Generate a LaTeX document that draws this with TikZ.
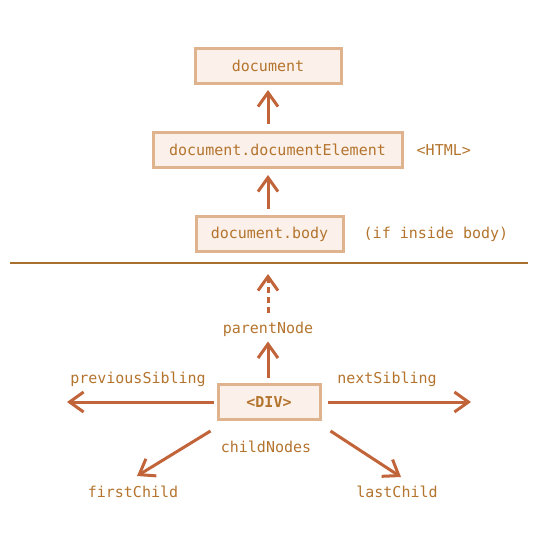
\documentclass[tikz,border=0pt]{standalone}
\usepackage{fontspec}
\setmonofont{DejaVu Sans Mono}
\usetikzlibrary{arrows.meta,positioning}

\definecolor{boxfill}{RGB}{251,241,234}
\definecolor{boxline}{RGB}{223,179,142}
\definecolor{arrowcol}{RGB}{194,100,58}
\definecolor{rulecol}{RGB}{168,112,46}
\definecolor{textcol}{RGB}{180,116,46}

\begin{document}
\begin{tikzpicture}[
    x=1pt, y=-1pt,
    font=\ttfamily\fontsize{15}{18}\selectfont,
    node distance=12pt,
    domnode/.style={rectangle, draw=boxline, line width=3pt, fill=boxfill, text=textcol, minimum height=35pt, inner sep=0pt},
    lbl/.style={text=textcol, inner sep=1pt},
    arrow/.style={-{Straight Barb[length=14pt,width=20pt,line width=3pt]}, draw=arrowcol, line width=3pt}
]
    \useasboundingbox (0,0) rectangle (548,537);

    % upper part: document chain
    \node[domnode, minimum width=146pt] (doc) at (268,66) {document};
    \node[domnode, minimum width=249pt] (docel) at (277.5,150) {document.documentElement};
    \node[domnode, minimum width=147pt] (body) at (269.5,234) {document.body};
    \node[lbl, right=of docel] (html) {<HTML>};
    \node[lbl, right=18pt of body] (inbody) {(if inside body)};

    \draw[arrow, shorten <=7pt, shorten >=5pt] (docel.north -| doc) -- (doc.south);
    \draw[arrow, shorten <=6pt, shorten >=6pt] (body.north -| doc) -- (docel.south -| doc);

    % separator
    \coordinate (ruleL) at (10,263);
    \coordinate (ruleR) at (528,263);
    \draw[rulecol, line width=2.5pt] (ruleL) -- (ruleR);

    % lower part: navigation from an element
    \node[domnode, minimum width=102pt, font=\ttfamily\bfseries\fontsize{15}{18}\selectfont] (div) at (269,402) {<DIV>};
    \node[lbl] (parent) at (268,329) {parentNode};
    \coordinate (parentend) at (268,274);
    \draw[arrow, shorten <=5pt, shorten >=4pt] (div.north -| parent) -- (parent.south);
    \draw[arrow, dash pattern=on 6pt off 4pt, shorten <=8pt] (parent.north) -- (parentend);

    \coordinate (prevend) at (67,402);
    \coordinate (nextend) at (471,402);
    \draw[arrow, shorten <=3pt] (div.west) -- (prevend);
    \draw[arrow, shorten <=6pt] (div.east) -- (nextend);
    \node[lbl] (prev) at (138,379) {previousSibling};
    \node[lbl] (next) at (387,379) {nextSibling};

    \node[lbl] (children) at (266,447) {childNodes};
    \node[lbl] (first) at (133,492) {firstChild};
    \node[lbl] (last) at (397,492) {lastChild};
    \coordinate (firstend) at (137,476);
    \coordinate (lastend) at (401,477);
    \draw[arrow] (div.south west) ++(-6,10) -- (firstend);
    \draw[arrow] (div.south east) ++(9,10) -- (lastend);
\end{tikzpicture}
\end{document}
